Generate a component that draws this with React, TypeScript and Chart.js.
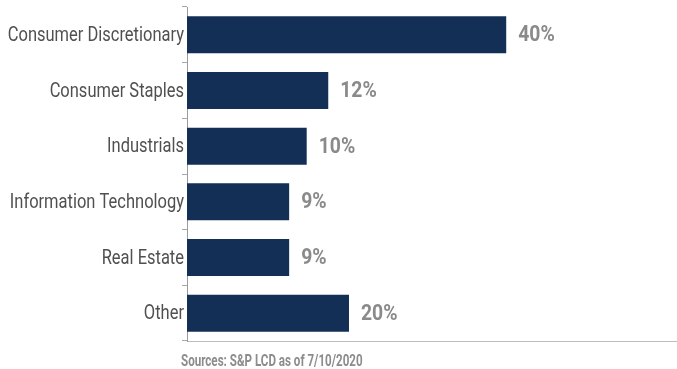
import React, { useEffect, useRef } from "react";
import { Chart, registerables } from "chart.js";

Chart.register(...registerables);

const categories = [
  "Consumer Discretionary",
  "Consumer Staples",
  "Industrials",
  "Information Technology",
  "Real Estate",
  "Other",
];
// bar lengths as drawn in the picture (scaled so the first bar = 40)
const barLengths = [40, 17.7, 15.0, 12.8, 12.8, 20.3];
// value labels as printed next to the bars
const shareLabels = ["40%", "12%", "10%", "9%", "9%", "20%"];
const sourceNote = "Sources: S&P LCD as of 7/10/2020";

const FONT = 'Roboto, "DejaVu Sans Condensed", sans-serif';

// condensed-look text: regular font squeezed horizontally
function drawNarrow(ctx: CanvasRenderingContext2D, text: string, x: number, y: number, sx: number) {
  ctx.save();
  ctx.translate(x, y);
  ctx.scale(sx, 1);
  ctx.fillText(text, 0, 0);
  ctx.restore();
}

const narrowLabelsPlugin = {
  id: "narrowLabels",
  afterDraw(chart: any) {
    const { ctx } = chart;
    const yScale = chart.scales.y;
    const meta = chart.getDatasetMeta(0);
    ctx.save();
    // category labels
    ctx.font = `400 21px ${FONT}`;
    ctx.fillStyle = "#505050";
    ctx.textAlign = "right";
    ctx.textBaseline = "middle";
    categories.forEach((c, i) => {
      drawNarrow(ctx, c, yScale.right - 3, yScale.getPixelForValue(i) + 1, 0.785);
    });
    // value labels
    ctx.font = `bold 22px ${FONT}`;
    ctx.fillStyle = "#8a8a8a";
    ctx.textAlign = "left";
    meta.data.forEach((bar: any, i: number) => {
      drawNarrow(ctx, shareLabels[i], bar.x + 12, bar.y + 1, 0.88);
    });
    ctx.restore();
  },
};

export default function App() {
  const ref = useRef<HTMLCanvasElement | null>(null);

  useEffect(() => {
    document.body.style.margin = "0";
    const chart = new Chart(ref.current as HTMLCanvasElement, {
      type: "bar",
      data: {
        labels: categories,
        datasets: [
          {
            data: barLengths,
            backgroundColor: "#132f55",
            borderWidth: 0,
            barPercentage: 0.665,
            categoryPercentage: 1,
          },
        ],
      },
      options: {
        indexAxis: "y",
        animation: false,
        responsive: false,
        maintainAspectRatio: false,
        layout: { padding: { top: 7, bottom: 28, left: 0, right: 0 } },
        plugins: {
          legend: { display: false },
          tooltip: { enabled: false },
          title: { display: false },
        },
        scales: {
          x: {
            min: 0,
            max: 61.4,
            ticks: { display: false },
            grid: { display: false, drawTicks: false },
            border: { display: true, color: "#bdbdbd", width: 1 },
          },
          y: {
            afterFit(scale: any) {
              scale.width = 187;
            },
            ticks: { display: false },
            grid: {
              drawOnChartArea: false,
              drawTicks: true,
              tickLength: 5,
              color: "#a8a8a8",
              offset: true,
            },
            border: { display: true, color: "#9a9a9a", width: 1 },
          },
        },
      },
      plugins: [narrowLabelsPlugin],
    } as any);
    return () => chart.destroy();
  }, []);

  return (
    <div style={{ position: "relative", width: 677, height: 369 }}>
      <canvas ref={ref} width={677} height={369} style={{ display: "block" }} />
      <div
        style={{
          position: "absolute",
          left: 181,
          top: 351,
          font: `bold 16px ${FONT}`,
          color: "#8c8c8c",
          whiteSpace: "nowrap",
          transform: "scaleX(0.725)",
          transformOrigin: "left top",
        }}
      >
        {sourceNote}
      </div>
    </div>
  );
}
